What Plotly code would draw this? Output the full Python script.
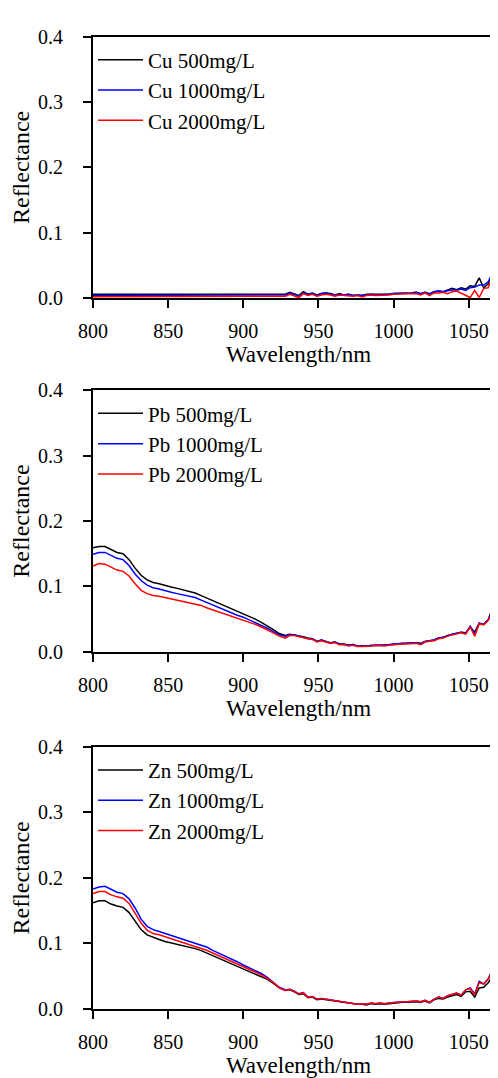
import plotly.graph_objects as go

wavelength = [800, 804, 808, 812, 816, 820, 824, 828, 832, 836, 840, 844, 848, 852, 856, 860,
              864, 868, 872, 876, 880, 884, 888, 892, 896, 900, 904, 908, 912, 916, 920, 924, 928,
              931, 934, 937, 940, 943, 946, 949, 952, 955, 958, 961, 964, 967, 970, 973, 976, 979,
              982, 985, 988, 991, 994, 997, 1000, 1003, 1006, 1009, 1012, 1015, 1018, 1021, 1024,
              1027, 1030, 1033, 1036, 1039, 1042, 1045, 1048, 1051, 1054, 1057, 1060, 1063, 1066,
              1069, 1072, 1074]

cu_500 = [0.006, 0.006, 0.006, 0.006, 0.006, 0.006, 0.006, 0.005, 0.005, 0.005,
          0.005, 0.005, 0.005, 0.005, 0.005, 0.005, 0.005, 0.005, 0.005, 0.005,
          0.005, 0.006, 0.005, 0.006, 0.005, 0.006, 0.005, 0.005, 0.006, 0.005,
          0.006, 0.005, 0.006,
          0.009, 0.007, 0.004, 0.010, 0.006, 0.008, 0.005, 0.007, 0.008, 0.007,
          0.005, 0.007, 0.005, 0.006, 0.004, 0.005, 0.004, 0.006, 0.006, 0.005,
          0.005, 0.006, 0.006, 0.007, 0.007, 0.008, 0.007, 0.008, 0.009, 0.007,
          0.009, 0.007, 0.010, 0.011, 0.010, 0.012, 0.015, 0.013, 0.016, 0.014,
          0.019, 0.018, 0.031, 0.016, 0.022, 0.039, 0.028, 0.025, 0.032]
cu_1000 = [0.004, 0.004, 0.004, 0.004, 0.004, 0.004, 0.004, 0.004, 0.004, 0.004,
           0.004, 0.004, 0.004, 0.004, 0.004, 0.004, 0.004, 0.004, 0.004, 0.004,
           0.004, 0.004, 0.004, 0.004, 0.004, 0.004, 0.004, 0.004, 0.004, 0.004,
           0.005, 0.004, 0.005,
           0.008, 0.006, 0.003, 0.008, 0.006, 0.007, 0.004, 0.007, 0.008, 0.006,
           0.005, 0.006, 0.005, 0.006, 0.004, 0.005, 0.004, 0.005, 0.006, 0.005,
           0.005, 0.006, 0.006, 0.007, 0.007, 0.008, 0.007, 0.008, 0.009, 0.007,
           0.009, 0.006, 0.010, 0.011, 0.010, 0.011, 0.013, 0.012, 0.014, 0.012,
           0.016, 0.017, 0.020, 0.020, 0.025, 0.040, 0.030, 0.027, 0.035]
cu_2000 = [0.002, 0.002, 0.002, 0.002, 0.002, 0.002, 0.002, 0.002, 0.002, 0.002,
           0.002, 0.002, 0.002, 0.002, 0.002, 0.002, 0.002, 0.002, 0.002, 0.002,
           0.002, 0.003, 0.002, 0.002, 0.002, 0.003, 0.002, 0.002, 0.003, 0.002,
           0.003, 0.002, 0.003,
           0.006, 0.004, 0.001, 0.007, 0.004, 0.006, 0.003, 0.005, 0.006, 0.005,
           0.003, 0.005, 0.004, 0.004, 0.003, 0.004, 0.002, 0.004, 0.005, 0.004,
           0.004, 0.004, 0.005, 0.006, 0.006, 0.006, 0.006, 0.007, 0.007, 0.005,
           0.008, 0.004, 0.008, 0.008, 0.009, 0.007, 0.010, 0.011, 0.008, 0.004,
           0.001, 0.012, 0.001, 0.015, 0.016, 0.035, 0.020, 0.018, 0.022]

pb_500 = [0.159, 0.161, 0.161, 0.156, 0.152, 0.150, 0.141, 0.128, 0.117, 0.110,
          0.106, 0.104, 0.101, 0.099, 0.097, 0.095, 0.093, 0.090, 0.086, 0.082,
          0.078, 0.074, 0.070, 0.066, 0.062, 0.059, 0.055, 0.050, 0.045, 0.040,
          0.034, 0.028, 0.025,
          0.027, 0.026, 0.024, 0.023, 0.021, 0.020, 0.016, 0.018, 0.016, 0.014,
          0.015, 0.012, 0.012, 0.010, 0.011, 0.009, 0.009, 0.009, 0.010, 0.010,
          0.010, 0.010, 0.011, 0.012, 0.012, 0.013, 0.013, 0.014, 0.014, 0.013,
          0.016, 0.017, 0.018, 0.021, 0.022, 0.025, 0.027, 0.028, 0.030, 0.029,
          0.038, 0.030, 0.044, 0.042, 0.049, 0.068, 0.054, 0.058, 0.076]
pb_1000 = [0.149, 0.152, 0.152, 0.147, 0.143, 0.141, 0.132, 0.119, 0.109, 0.102,
           0.098, 0.096, 0.093, 0.091, 0.089, 0.087, 0.085, 0.083, 0.079, 0.075,
           0.071, 0.067, 0.063, 0.059, 0.056, 0.053, 0.049, 0.045, 0.041, 0.036,
           0.031, 0.026, 0.024,
           0.026, 0.026, 0.024, 0.023, 0.020, 0.020, 0.016, 0.018, 0.016, 0.013,
           0.015, 0.012, 0.011, 0.010, 0.011, 0.008, 0.009, 0.008, 0.010, 0.010,
           0.010, 0.010, 0.011, 0.012, 0.012, 0.013, 0.013, 0.014, 0.014, 0.012,
           0.016, 0.017, 0.018, 0.021, 0.022, 0.024, 0.027, 0.028, 0.030, 0.028,
           0.039, 0.027, 0.044, 0.042, 0.049, 0.064, 0.052, 0.058, 0.077]
pb_2000 = [0.131, 0.135, 0.134, 0.129, 0.125, 0.123, 0.116, 0.104, 0.094, 0.089,
           0.086, 0.085, 0.083, 0.081, 0.080, 0.078, 0.076, 0.074, 0.071, 0.067,
           0.064, 0.061, 0.057, 0.054, 0.051, 0.048, 0.045, 0.042, 0.038, 0.034,
           0.029, 0.024, 0.021,
           0.025, 0.025, 0.023, 0.022, 0.020, 0.019, 0.015, 0.017, 0.015, 0.013,
           0.014, 0.011, 0.011, 0.009, 0.010, 0.008, 0.008, 0.008, 0.009, 0.010,
           0.009, 0.009, 0.010, 0.011, 0.011, 0.012, 0.012, 0.013, 0.013, 0.011,
           0.015, 0.016, 0.017, 0.020, 0.021, 0.024, 0.026, 0.027, 0.029, 0.027,
           0.038, 0.024, 0.043, 0.041, 0.048, 0.060, 0.050, 0.056, 0.074]

zn_500 = [0.162, 0.165, 0.165, 0.160, 0.157, 0.155, 0.147, 0.134, 0.121, 0.113,
          0.109, 0.106, 0.103, 0.101, 0.098, 0.096, 0.094, 0.092, 0.089, 0.085,
          0.082, 0.078, 0.074, 0.070, 0.066, 0.062, 0.058, 0.054, 0.050, 0.045,
          0.039, 0.032, 0.028,
          0.029, 0.026, 0.022, 0.023, 0.017, 0.018, 0.014, 0.015, 0.014, 0.012,
          0.011, 0.010, 0.009, 0.008, 0.008, 0.007, 0.007, 0.006, 0.008, 0.007,
          0.008, 0.007, 0.008, 0.009, 0.009, 0.010, 0.010, 0.011, 0.011, 0.010,
          0.012, 0.009, 0.014, 0.016, 0.015, 0.018, 0.020, 0.022, 0.019, 0.026,
          0.027, 0.018, 0.032, 0.033, 0.040, 0.050, 0.038, 0.045, 0.063]
zn_1000 = [0.183, 0.186, 0.187, 0.182, 0.178, 0.176, 0.168, 0.154, 0.137, 0.126,
           0.121, 0.118, 0.115, 0.112, 0.109, 0.107, 0.104, 0.101, 0.098, 0.094,
           0.089, 0.085, 0.081, 0.076, 0.072, 0.067, 0.063, 0.058, 0.054, 0.048,
           0.041, 0.033, 0.029,
           0.030, 0.027, 0.023, 0.025, 0.018, 0.019, 0.015, 0.016, 0.015, 0.013,
           0.012, 0.011, 0.010, 0.009, 0.009, 0.007, 0.008, 0.007, 0.009, 0.008,
           0.009, 0.008, 0.009, 0.010, 0.010, 0.011, 0.011, 0.012, 0.012, 0.011,
           0.013, 0.010, 0.015, 0.018, 0.016, 0.020, 0.022, 0.024, 0.021, 0.029,
           0.032, 0.023, 0.042, 0.038, 0.046, 0.061, 0.046, 0.049, 0.068]
zn_2000 = [0.176, 0.179, 0.179, 0.174, 0.171, 0.169, 0.161, 0.146, 0.131, 0.120,
           0.115, 0.113, 0.110, 0.107, 0.104, 0.102, 0.099, 0.096, 0.093, 0.089,
           0.085, 0.081, 0.077, 0.072, 0.069, 0.064, 0.060, 0.056, 0.052, 0.046,
           0.040, 0.032, 0.028,
           0.030, 0.027, 0.023, 0.024, 0.018, 0.019, 0.015, 0.016, 0.015, 0.013,
           0.012, 0.011, 0.010, 0.009, 0.009, 0.007, 0.008, 0.007, 0.009, 0.008,
           0.009, 0.008, 0.009, 0.010, 0.010, 0.011, 0.011, 0.012, 0.012, 0.011,
           0.013, 0.010, 0.015, 0.018, 0.016, 0.020, 0.022, 0.024, 0.021, 0.029,
           0.031, 0.022, 0.040, 0.038, 0.045, 0.060, 0.045, 0.048, 0.068]

x_ticks = [800, 850, 900, 950, 1000, 1050]
y_ticks = [0.0, 0.1, 0.2, 0.3, 0.4]
x_title = "Wavelength/nm"
y_title = "Reflectance"

panels = [
    ("Cu", [cu_500, cu_1000, cu_2000]),
    ("Pb", [pb_500, pb_1000, pb_2000]),
    ("Zn", [zn_500, zn_1000, zn_2000]),
]
conc_labels = ["500mg/L", "1000mg/L", "2000mg/L"]
colors = ["#000000", "#0000ff", "#ff0000"]

W, H = 498, 1078
FONT = "Liberation Serif"
# pixel positions of each panel (top, bottom)
panel_px = [(18, 285), (379, 646), (743, 1010.5)]

fig = go.Figure()
layout = dict(
    width=W, height=H,
    margin=dict(l=85, r=0, t=0, b=0),
    paper_bgcolor="white", plot_bgcolor="white",
    font=dict(family=FONT, color="black"),
    showlegend=True,
)

for i, (metal, series) in enumerate(panels):
    n = "" if i == 0 else str(i + 1)
    leg = "legend" if i == 0 else "legend" + str(i + 1)
    for s, lab, col in zip(series, conc_labels, colors):
        fig.add_trace(go.Scatter(
            x=wavelength, y=s, mode="lines",
            name=f"{metal} {lab}",
            line=dict(color=col, width=1.5),
            xaxis="x" + n, yaxis="y" + n,
            legend=leg,
        ))
    top, bot = panel_px[i]
    dom = [1 - bot / H, 1 - top / H]
    axis_common = dict(
        showline=True, linecolor="black", linewidth=1.8, mirror=True,
        ticks="outside", ticklen=8, tickwidth=1.8, tickcolor="black",
        showgrid=False, zeroline=False,
        tickfont=dict(family=FONT, size=20, color="black"),
    )
    layout["xaxis" + n] = dict(
        axis_common, domain=[0, 1], range=[800, 1073.5], anchor="y" + n,
        tickvals=x_ticks, ticklabelstandoff=6,
        title=dict(text=x_title, font=dict(family=FONT, size=23), standoff=0),
    )
    layout["yaxis" + n] = dict(
        axis_common, domain=dom, range=[0, 0.4], anchor="x" + n,
        tickvals=y_ticks, tickformat=".1f", ticklabelstandoff=16,
        title=dict(text=y_title, font=dict(family=FONT, size=24), standoff=6),
    )
    layout[leg] = dict(
        x=0.0, y=1 - (top + 3) / H, xanchor="left", yanchor="top",
        bgcolor="rgba(0,0,0,0)", borderwidth=0,
        font=dict(family=FONT, size=21, color="black"),
        itemwidth=45,
    )

fig.update_layout(**layout)
fig.write_html("out.html")
